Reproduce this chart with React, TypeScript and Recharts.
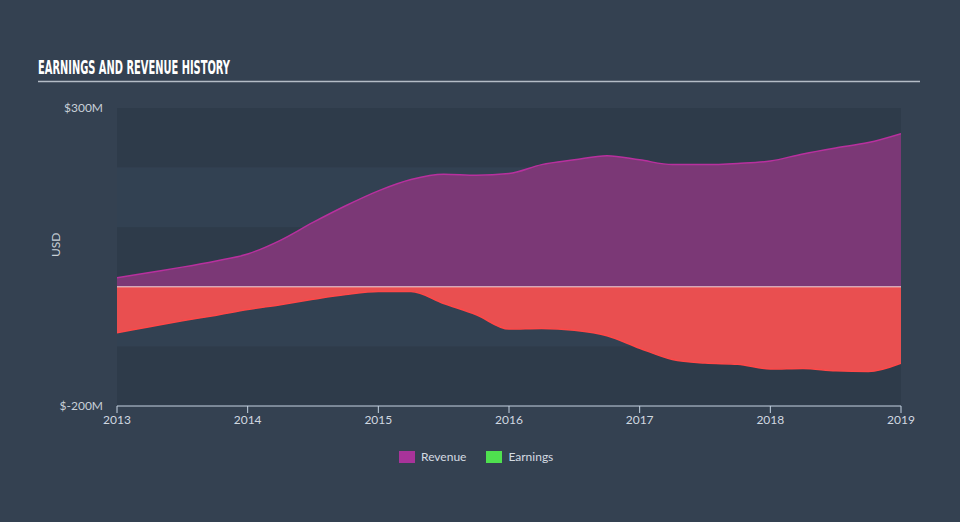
import React from 'react';
import {
  ComposedChart,
  Area,
  XAxis,
  YAxis,
  ReferenceArea,
  ReferenceLine,
} from 'recharts';

// quarterly points (USD millions)
const years = [
  2013, 2013.25, 2013.5, 2013.75, 2014, 2014.25, 2014.5, 2014.75, 2015, 2015.25,
  2015.5, 2015.75, 2016, 2016.25, 2016.5, 2016.75, 2017, 2017.25, 2017.5, 2017.75,
  2018, 2018.25, 2018.5, 2018.75, 2019,
];
const revenue = [
  15, 24, 33, 43, 55, 78, 108, 136, 161, 180,
  189, 187, 190, 205, 213, 220, 213, 205, 205, 207,
  211, 223, 233, 242, 257,
];
const earnings = [
  -77, -67, -57, -48, -38, -30, -21, -13, -8, -8,
  -28, -47, -71, -70, -73, -82, -103, -122, -128, -130,
  -138, -137, -141, -142, -128,
];
const xTicks = [2013, 2014, 2015, 2016, 2017, 2018, 2019];
const yTicks = [300, -200];
const bands = [
  [200, 300],
  [100, 200],
  [0, 100],
  [-100, 0],
  [-200, -100],
];
const legendItems = [
  { name: 'Revenue', color: '#a8339a' },
  { name: 'Earnings', color: '#4fe04f' },
];

const data = years.map((year, i) => ({
  year,
  revenue: revenue[i],
  earnings: earnings[i],
}));

const fontFamily = 'Lato, "Open Sans", sans-serif';

const App: React.FC = () => {
  const wrapperStyle: React.CSSProperties = {
    position: 'absolute',
    left: 0,
    top: 0,
    width: 960,
    height: 522,
    background: '#344151',
    fontFamily,
    overflow: 'hidden',
  };

  return (
    <div style={wrapperStyle}>
      <svg
        width={960}
        height={100}
        style={{ position: 'absolute', left: 0, top: 0 }}
      >
        <text
          x={38}
          y={74}
          fill="#ffffff"
          fontFamily='"DejaVu Sans Condensed", "DejaVu Sans", sans-serif'
          fontWeight="bold"
          fontSize={19}
          textLength={192}
          lengthAdjust="spacingAndGlyphs"
        >
          EARNINGS AND REVENUE HISTORY
        </text>
        <line x1={38} x2={920} y1={81.5} y2={81.5} stroke="#b4bcc6" strokeWidth={1.5} />
      </svg>

      <ComposedChart
        width={960}
        height={522}
        data={data}
        margin={{ top: 108, right: 59, bottom: 86, left: 57 }}
      >
        {bands.map(([lo, hi], i) => (
          <ReferenceArea
            key={lo}
            y1={lo}
            y2={hi}
            fill={i % 2 === 0 ? '#2e3b4a' : '#324152'}
            fillOpacity={1}
            stroke="none"
            ifOverflow="hidden"
          />
        ))}
        <XAxis
          dataKey="year"
          type="number"
          domain={[2013, 2019]}
          ticks={xTicks}
          allowDataOverflow
          height={30}
          stroke="#c5d3e2"
          tickSize={7}
          tick={{ fill: '#d0d8e0', fontSize: 12, fontFamily }}
        />
        <YAxis
          type="number"
          domain={[-200, 300]}
          ticks={yTicks}
          width={60}
          axisLine={false}
          tickLine={false}
          tickSize={12}
          tickMargin={2}
          tick={{ fill: '#c8d0d8', fontSize: 12, fontFamily }}
          tickFormatter={(v: number) => `$${v}M`}
          label={{
            value: 'USD',
            angle: -90,
            position: 'insideLeft',
            offset: 0,
            dx: -1,
            fill: '#c8d0d8',
            fontSize: 12,
            fontFamily,
          }}
        />
        <Area
          type="monotone"
          dataKey="revenue"
          baseValue={0}
          stroke="#b8309e"
          strokeWidth={1.5}
          fill="#7b3876"
          fillOpacity={1}
          isAnimationActive={false}
        />
        <Area
          type="monotone"
          dataKey="earnings"
          baseValue={0}
          stroke="#ff4848"
          strokeWidth={1.5}
          fill="#e94f50"
          fillOpacity={1}
          isAnimationActive={false}
        />
        <ReferenceLine y={0} stroke="#f4d6dc" strokeWidth={1} />
      </ComposedChart>

      <div
        style={{
          position: 'absolute',
          left: 399,
          top: 449,
          display: 'flex',
          alignItems: 'center',
          fontSize: 12,
          color: '#d4dbe2',
        }}
      >
        {legendItems.map((item) => (
          <div
            key={item.name}
            style={{ display: 'flex', alignItems: 'center', marginRight: 20 }}
          >
            <span
              style={{
                display: 'inline-block',
                width: 16,
                height: 12,
                background: item.color,
                marginRight: 6,
              }}
            />
            <span>{item.name}</span>
          </div>
        ))}
      </div>
    </div>
  );
};

export default App;
